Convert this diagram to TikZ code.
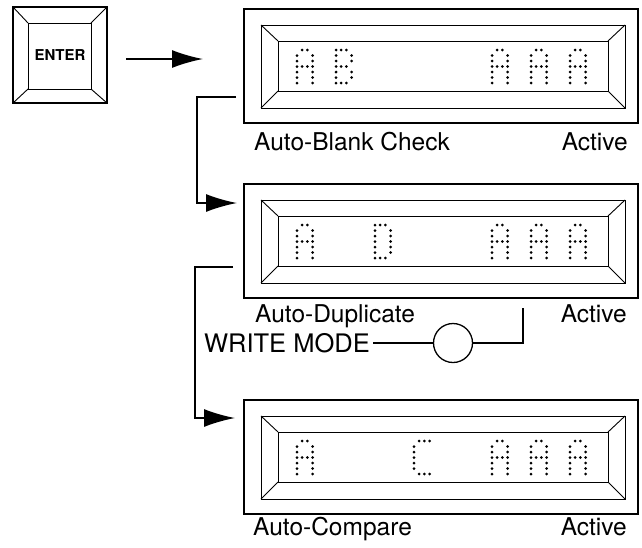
\documentclass[tikz,border=0pt]{standalone}
\usepackage{fontspec}
\setmainfont{TeX Gyre Heros}
\usetikzlibrary{arrows.meta,positioning,calc}

% dot patterns (col/row on a 4x7 grid)
\def\dotA{1/0,2/0,0/1,3/1,0/2,3/2,0/3,1/3,2/3,3/3,0/4,3/4,0/5,3/5,0/6,3/6}
\def\dotB{0/0,1/0,2/0,0/1,3/1,0/2,3/2,0/3,1/3,2/3,0/4,3/4,0/5,3/5,0/6,1/6,2/6}
\def\dotC{1/0,2/0,3/0,0/1,0/2,0/3,0/4,0/5,1/6,2/6,3/6}
\def\dotD{0/0,1/0,2/0,0/1,3/1,0/2,3/2,0/3,3/3,0/4,3/4,0/5,3/5,0/6,1/6,2/6}
\newcommand{\lcdchar}[3]{\edef\dotpat{#3}%
  \foreach \dc/\dr in \dotpat {\fill (#1+\dc*5.2,#2+\dr*5.5) circle (1.5);}}

\begin{document}
\begin{tikzpicture}[
  x=1pt, y=-1pt,
  frame/.style={draw, line width=1.3pt, inner sep=0pt, outer sep=0pt},
  lcd/.style={frame, minimum width=394pt, minimum height=114pt},
  keybox/.style={frame, minimum width=94pt, minimum height=96pt, font=\fontsize{15}{17}\selectfont\bfseries},
  bevel/.style={line width=0.9pt},
  lbl/.style={font=\fontsize{24.5}{28}\selectfont, inner sep=0pt},
  flow/.style={line width=1.7pt, -{Latex[length=31pt,width=18pt]}},
  wire/.style={line width=1.3pt}
]
\useasboundingbox (0,0) rectangle (642,547);

\node[keybox] (key) at (60,55) {ENTER};
\draw[bevel] ($(key.north west)+(15,16)$) rectangle ($(key.south east)+(-16,-14)$);
\draw[bevel] (key.north west) -- ++(15,16) (key.north east) -- ++(-16,16)
  (key.south west) -- ++(15,-14) (key.south east) -- ++(-16,-14);

\foreach \n/\t in {1/9,2/184,3/400} {
  \node[lcd] (disp\n) at (441,\t+57) {};
  \draw[bevel] ($(disp\n.north west)+(17,16)$) rectangle ($(disp\n.south east)+(-13,-15)$);
  \draw[bevel] ($(disp\n.north west)+(34,32)$) rectangle ($(disp\n.south east)+(-30,-32)$);
  \draw[bevel] ($(disp\n.north west)+(17,16)$) -- ++(17,16)
    ($(disp\n.north east)+(-13,16)$) -- ++(-17,16)
    ($(disp\n.south west)+(17,-15)$) -- ++(17,-17)
    ($(disp\n.south east)+(-13,-15)$) -- ++(-17,-17);
}
\foreach \k/\ch in {0/\dotA,1/\dotB,5/\dotA,6/\dotA,7/\dotA} {\lcdchar{297+\k*39}{50}{\ch}}
\foreach \k/\ch in {0/\dotA,2/\dotD,5/\dotA,6/\dotA,7/\dotA} {\lcdchar{297+\k*39}{225}{\ch}}
\foreach \k/\ch in {0/\dotA,3/\dotC,5/\dotA,6/\dotA,7/\dotA} {\lcdchar{297+\k*39}{441}{\ch}}

\node[lbl, anchor=base west] (ablank) at (254,150) {Auto-Blank Check};
\node[lbl, anchor=base east] (act1) at (628,150) {Active};
\node[lbl, anchor=base west] (adup) at (255,322) {Auto-Duplicate};
\node[lbl, anchor=base east] (act2) at (627,322) {Active};
\node[lbl, anchor=base west] (acmp) at (253,535) {Auto-Compare};
\node[lbl, anchor=base east] (act3) at (627,535) {Active};

\node[lbl, font=\fontsize{25.5}{28}\selectfont, anchor=east] (wmode) at (370,343) {WRITE MODE};
\node[draw, circle, wire, minimum size=39pt, inner sep=0pt] (wsw) at (453,343) {};
\coordinate (wtop) at (523,308);
\draw[wire] (wmode.east) ++(3,0) -- (wsw.west);
\draw[wire] (wsw.east) -| (wtop);

\coordinate (a0) at (203,59);
\draw[flow] (key.east |- a0) ++(19,0) -- (a0);
\coordinate (b1) at (236,97);
\coordinate (b2) at (237,203);
\draw[flow] (b1) -- ++(-39,0) |- (b2);
\coordinate (b3) at (233,267);
\coordinate (b4) at (235,418);
\draw[flow] (b3) -- ++(-38,0) |- (b4);
\end{tikzpicture}
\end{document}
